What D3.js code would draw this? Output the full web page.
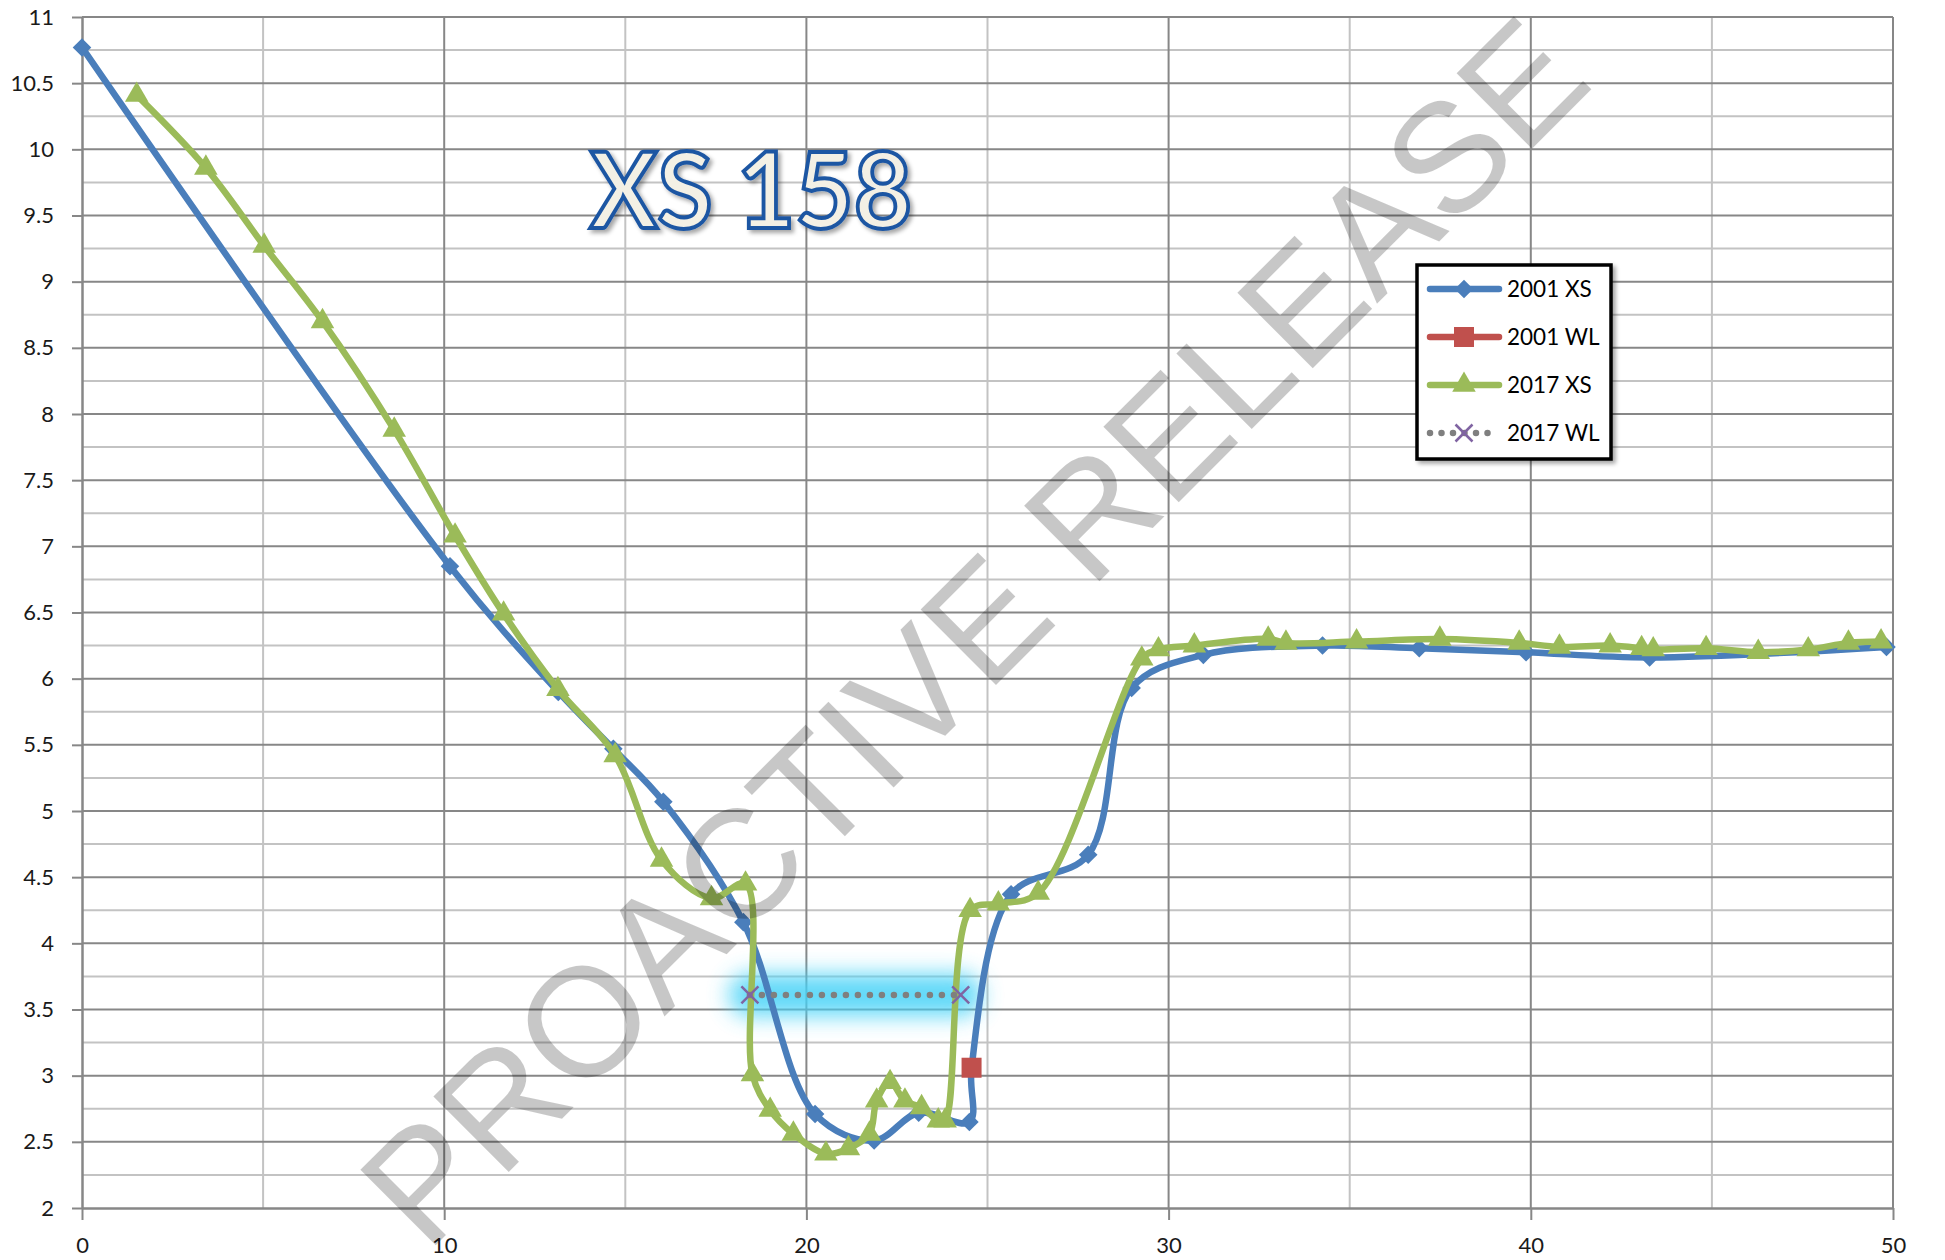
<!DOCTYPE html>
<html><head><meta charset="utf-8">
<script src="https://cdn.jsdelivr.net/npm/d3@7"></script>
<style>body{margin:0;background:#fff}</style>
</head><body>
<svg id="c" width="1945" height="1260"></svg>
<script>
// ---- data ----
const station2001 = [0, 10.16, 13.15, 14.67, 16.05, 18.26, 20.24, 21.87, 23.10, 24.50, 24.56, 25.65, 27.78, 28.98, 30.96, 34.25, 36.92, 39.87, 43.28, 49.82];
const elev2001    = [10.77, 6.85, 5.90, 5.47, 5.07, 4.16, 2.71, 2.51, 2.72, 2.65, 3.06, 4.37, 4.67, 5.93, 6.18, 6.25, 6.23, 6.20, 6.16, 6.24];
const wlStation2001 = [24.56];
const wlElev2001    = [3.06];
const station2017 = [1.51, 3.42, 5.03, 6.64, 8.62, 10.30, 11.64, 13.14, 14.72, 16.00, 17.38, 18.32, 18.51, 19.00, 19.64, 20.54, 21.16, 21.74, 21.94, 22.31, 22.72, 23.18, 23.64, 23.83, 24.52, 25.30, 26.40, 29.26, 29.72, 30.71, 32.75, 33.24, 35.19, 37.49, 39.68, 40.79, 42.19, 43.06, 43.38, 44.84, 46.28, 47.66, 48.77, 49.67];
const elev2017    = [10.41, 9.86, 9.27, 8.70, 7.88, 7.08, 6.49, 5.92, 5.42, 4.63, 4.34, 4.45, 3.01, 2.74, 2.56, 2.41, 2.45, 2.56, 2.81, 2.95, 2.81, 2.76, 2.66, 2.66, 4.25, 4.30, 4.38, 6.15, 6.22, 6.25, 6.30, 6.27, 6.28, 6.30, 6.27, 6.24, 6.25, 6.23, 6.22, 6.23, 6.20, 6.22, 6.27, 6.28];
const wlStation2017 = [18.44, 24.26];
const wlElev2017    = [3.61, 3.61];
const xTicks = [0, 10, 20, 30, 40, 50];
const xMinor = [5, 15, 25, 35, 45];
const yTicks = [2, 2.5, 3, 3.5, 4, 4.5, 5, 5.5, 6, 6.5, 7, 7.5, 8, 8.5, 9, 9.5, 10, 10.5, 11];
const yMinor = [2.25, 2.75, 3.25, 3.75, 4.25, 4.75, 5.25, 5.75, 6.25, 6.75, 7.25, 7.75, 8.25, 8.75, 9.25, 9.75, 10.25, 10.75];
const seriesNames = ["2001 XS", "2001 WL", "2017 XS", "2017 WL"];
const title = "XS 158";
const watermark = "PROACTIVE RELEASE";

const C = {blue: "#4a7ebb", red: "#c0504d", green: "#9bbb59", purple: "#8064a2", gray: "#7f7f7f"};
const FONT = "Lato, 'Open Sans', sans-serif";

const svg = d3.select("#c");
svg.append("rect").attr("width", 1945).attr("height", 1260).attr("fill", "#fff");
const defs = svg.append("defs");
const glow = defs.append("filter").attr("id", "glow").attr("filterUnits", "userSpaceOnUse")
  .attr("x", 600).attr("y", 880).attr("width", 520).attr("height", 240);
glow.append("feGaussianBlur").attr("stdDeviation", 11);
const sh = defs.append("filter").attr("id", "shadow").attr("x", "-20%").attr("y", "-20%").attr("width", "150%").attr("height", "150%");
sh.append("feDropShadow").attr("dx", 3).attr("dy", 3).attr("stdDeviation", 2).attr("flood-color", "#000").attr("flood-opacity", 0.35);

const x = d3.scaleLinear().domain([0, 50]).range([82, 1893]);
const y = d3.scaleLinear().domain([2, 11]).range([1208, 17]);

// gridlines
const g = svg.append("g");
g.selectAll(".vmin").data(xMinor).join("line").attr("x1", d => x(d)).attr("x2", d => x(d)).attr("y1", y(11)).attr("y2", y(2)).attr("stroke", "#c3c3c3").attr("stroke-width", 2);
g.selectAll(".hmin").data(yMinor).join("line").attr("y1", d => y(d)).attr("y2", d => y(d)).attr("x1", x(0)).attr("x2", x(50)).attr("stroke", "#c3c3c3").attr("stroke-width", 2);
g.selectAll(".vmaj").data(xTicks.slice(1)).join("line").attr("x1", d => x(d)).attr("x2", d => x(d)).attr("y1", y(11)).attr("y2", y(2)).attr("stroke", "#878787").attr("stroke-width", 2);
g.selectAll(".hmaj").data(yTicks.slice(1)).join("line").attr("y1", d => y(d)).attr("y2", d => y(d)).attr("x1", x(0)).attr("x2", x(50)).attr("stroke", "#878787").attr("stroke-width", 2);

// axes
const ay = svg.append("g").attr("transform", `translate(${x(0)},0)`)
  .call(d3.axisLeft(y).tickValues(yTicks).tickSize(10).tickSizeOuter(0).tickPadding(18).tickFormat(d => String(d)));
const ax = svg.append("g").attr("transform", `translate(0,${y(2)})`)
  .call(d3.axisBottom(x).tickValues(xTicks).tickSize(12).tickSizeOuter(0).tickPadding(17).tickFormat(d => String(d)));
[ay, ax].forEach(a => {
  a.select(".domain").attr("stroke", "#878787").attr("stroke-width", 2.5);
  a.selectAll(".tick line").attr("stroke", "#878787").attr("stroke-width", 2);
  a.selectAll(".tick text").attr("font-family", FONT).attr("font-size", 22).attr("fill", "#1a1a1a");
});

// title
svg.append("text").text(title).attr("x", 751).attr("y", 228).attr("text-anchor", "middle")
  .attr("font-family", FONT).attr("font-weight", 700).attr("font-size", 105)
  .attr("textLength", 322).attr("lengthAdjust", "spacingAndGlyphs")
  .attr("fill", "#f3f0e5").attr("stroke", "#1f57a3").attr("stroke-width", 4)
  .attr("filter", "url(#shadow)");

// WL 2017 glow
const wl17 = wlStation2017.map((s, i) => [s, wlElev2017[i]]);
svg.append("path").datum(wl17).attr("d", d3.line().x(d => x(d[0])).y(d => y(d[1])))
  .attr("stroke", "#45d2f7").attr("stroke-width", 42).attr("stroke-linecap", "round")
  .attr("fill", "none").attr("opacity", 0.85).attr("filter", "url(#glow)");

const curve = d3.curveCatmullRom.alpha(0.5);
const line = d3.line().x(d => x(d[0])).y(d => y(d[1])).curve(curve);

// 2001 XS
const xs01 = station2001.map((s, i) => [s, elev2001[i]]);
svg.append("path").datum(xs01).attr("d", line).attr("fill", "none").attr("stroke", C.blue).attr("stroke-width", 6.5).attr("stroke-linejoin", "round");
const diamond = d3.symbol().type(d3.symbolDiamond2).size(220);
svg.selectAll(".m01").data(xs01).join("path").attr("d", diamond)
  .attr("transform", d => `translate(${x(d[0])},${y(d[1])})`).attr("fill", C.blue);

// 2001 WL
const wl01 = wlStation2001.map((s, i) => [s, wlElev2001[i]]);
svg.selectAll(".m01w").data(wl01).join("rect")
  .attr("x", d => x(d[0]) - 10).attr("y", d => y(d[1]) - 10).attr("width", 20).attr("height", 20).attr("fill", C.red);

// 2017 XS
const xs17 = station2017.map((s, i) => [s, elev2017[i]]);
svg.append("path").datum(xs17).attr("d", line).attr("fill", "none").attr("stroke", C.green).attr("stroke-width", 6.5).attr("stroke-linejoin", "round");
const tri = d3.symbol().type(d3.symbolTriangle).size(240);
svg.selectAll(".m17").data(xs17).join("path").attr("d", tri)
  .attr("transform", d => `translate(${x(d[0])},${y(d[1])})`).attr("fill", C.green);

// 2017 WL
svg.append("path").datum(wl17).attr("d", d3.line().x(d => x(d[0])).y(d => y(d[1])))
  .attr("fill", "none").attr("stroke", C.gray).attr("stroke-width", 6.5).attr("stroke-linecap", "round").attr("stroke-dasharray", "0,12");
const cross = d3.symbol().type(d3.symbolX).size(190);
svg.selectAll(".m17w").data(wl17).join("path").attr("d", cross)
  .attr("transform", d => `translate(${x(d[0])},${y(d[1])})`).attr("fill", "none").attr("stroke", C.purple).attr("stroke-width", 2.5);

// legend
const lg = svg.append("g");
lg.append("rect").attr("x", 1417).attr("y", 265).attr("width", 194).attr("height", 194)
  .attr("fill", "#fff").attr("stroke", "#000").attr("stroke-width", 3.5).attr("filter", "url(#shadow)");
const rows = [289, 337, 385, 433];
seriesNames.forEach((name, i) => {
  const ry = rows[i];
  const row = lg.append("g");
  if (i < 3) {
    const col = [C.blue, C.red, C.green][i];
    row.append("line").attr("x1", 1430).attr("x2", 1499).attr("y1", ry).attr("y2", ry).attr("stroke", col).attr("stroke-width", 6.5).attr("stroke-linecap", "round");
    if (i === 0) row.append("path").attr("d", diamond).attr("transform", `translate(1464,${ry})`).attr("fill", col);
    if (i === 1) row.append("rect").attr("x", 1454).attr("y", ry - 10).attr("width", 20).attr("height", 20).attr("fill", col);
    if (i === 2) row.append("path").attr("d", tri).attr("transform", `translate(1464,${ry})`).attr("fill", col);
  } else {
    row.append("line").attr("x1", 1430).attr("x2", 1496).attr("y1", ry).attr("y2", ry).attr("stroke", C.gray).attr("stroke-width", 6.5).attr("stroke-linecap", "round").attr("stroke-dasharray", "0,11.5");
    row.append("path").attr("d", cross).attr("transform", `translate(1464,${ry})`).attr("fill", "none").attr("stroke", C.purple).attr("stroke-width", 2.5);
  }
  row.append("text").text(name).attr("x", 1507).attr("y", ry + 8).attr("font-family", FONT).attr("font-size", 22.5).attr("fill", "#000");
});

// watermark
svg.append("text").text(watermark)
  .attr("transform", "translate(972,630) rotate(-45)")
  .attr("text-anchor", "middle").attr("dy", "0.36em")
  .attr("font-family", "'Liberation Sans', Arial, sans-serif").attr("font-size", 155)
  .attr("fill", "#000").attr("fill-opacity", 0.22);
</script>
</body></html>
